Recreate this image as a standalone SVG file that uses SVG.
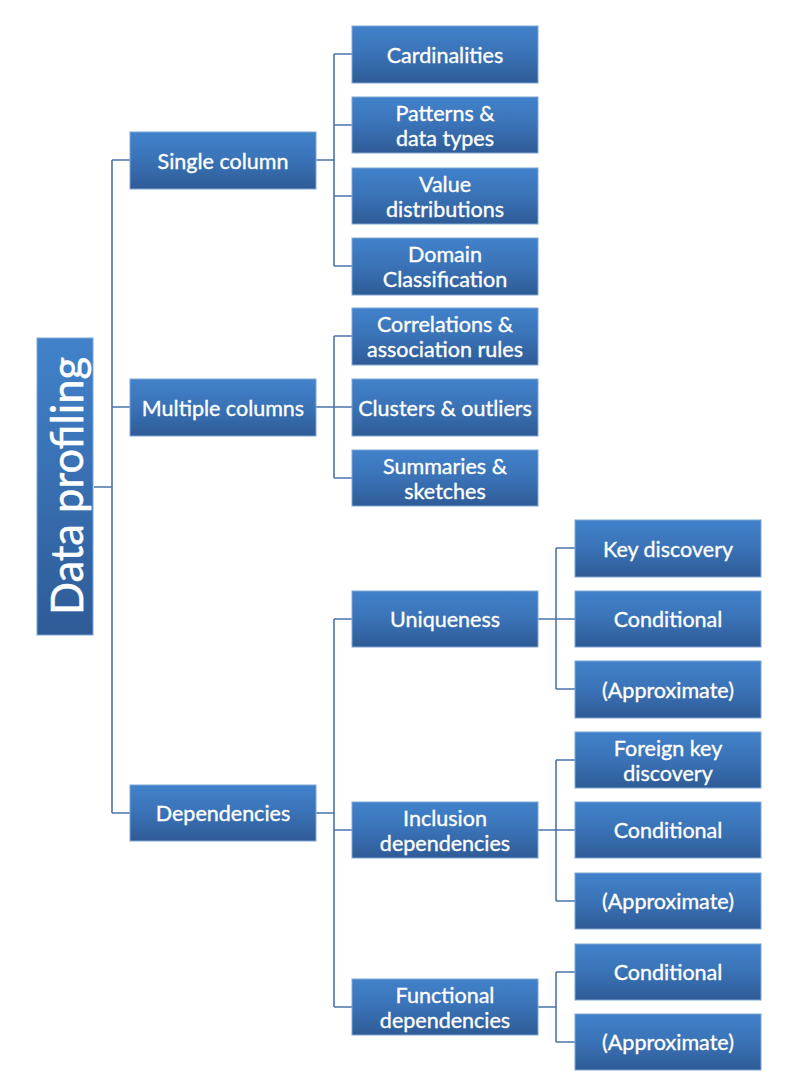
<svg xmlns="http://www.w3.org/2000/svg" width="812" height="1088" viewBox="0 0 812 1088">
<defs>
<linearGradient id="g" x1="0" y1="0" x2="0" y2="1">
<stop offset="0" stop-color="#4182cb"/>
<stop offset="0.5" stop-color="#3a72b6"/>
<stop offset="1" stop-color="#2e5b96"/>
</linearGradient>
<linearGradient id="gr" x1="0" y1="0" x2="0" y2="1">
<stop offset="0" stop-color="#4182cb"/>
<stop offset="1" stop-color="#2e5b96"/>
</linearGradient>
</defs>
<style>
rect{fill:url(#g);stroke:#7ea5d6;stroke-width:1}
#root rect{fill:url(#gr)}
text{fill:#fff;stroke:#fff;stroke-width:0.35;font-family:Lato,"Open Sans","Liberation Sans",sans-serif;font-size:21.5px;text-anchor:middle;dominant-baseline:central}
#connectors path{fill:none;stroke:#4a74ac;stroke-width:1.6}
</style>
<rect width="812" height="1088" fill="#fff" style="fill:#fff;stroke:none"/>
<g id="connectors">
<path d="M94 487H112M112 160V813M112 160H130M112 407H130M112 813H130"/>
<path d="M316 160H334M334 54V266M334 54H352M334 125H352M334 196H352M334 266H352"/>
<path d="M316 407H334M334 336V478M334 336H352M334 407H352M334 478H352"/>
<path d="M316 813H334M334 619V1007M334 619H352M334 830H352M334 1007H352"/>
<path d="M538 619H556M556 548V689M556 548H575M556 619H575M556 689H575"/>
<path d="M538 830H556M556 760V901M556 760H575M556 830H575M556 901H575"/>
<path d="M538 1007H556M556 972V1042M556 972H575M556 1042H575"/>
</g>
<g id="root"><rect x="37" y="338" width="56" height="297"/><text transform="translate(66 486) rotate(-90)" style="font-size:43.5px;stroke-width:0.5">Data profiling</text></g>
<g id="single"><rect x="130" y="132" width="186" height="57"/><text x="223" y="160.5">Single column</text></g>
<g id="multiple"><rect x="130" y="379" width="186" height="57"/><text x="223" y="407.5">Multiple columns</text></g>
<g id="deps"><rect x="130" y="785" width="186" height="56"/><text x="223" y="813">Dependencies</text></g>
<g id="card"><rect x="352" y="26" width="186" height="57"/><text x="445" y="54.5">Cardinalities</text></g>
<g id="patterns"><rect x="352" y="97" width="186" height="56"/><text x="445" y="112.5">Patterns &amp;</text><text x="445" y="137.5">data types</text></g>
<g id="value"><rect x="352" y="168" width="186" height="56"/><text x="445" y="183.5">Value</text><text x="445" y="208.5">distributions</text></g>
<g id="domain"><rect x="352" y="238" width="186" height="57"/><text x="445" y="254">Domain</text><text x="445" y="279">Classification</text></g>
<g id="corr"><rect x="352" y="308" width="186" height="57"/><text x="445" y="324">Correlations &amp;</text><text x="445" y="349">association rules</text></g>
<g id="clusters"><rect x="352" y="379" width="186" height="57"/><text x="445" y="407.5">Clusters &amp; outliers</text></g>
<g id="summaries"><rect x="352" y="450" width="186" height="56"/><text x="445" y="465.5">Summaries &amp;</text><text x="445" y="490.5">sketches</text></g>
<g id="uniq"><rect x="352" y="591" width="186" height="56"/><text x="445" y="619">Uniqueness</text></g>
<g id="incl"><rect x="352" y="802" width="186" height="56"/><text x="445" y="817.5">Inclusion</text><text x="445" y="842.5">dependencies</text></g>
<g id="func"><rect x="352" y="979" width="186" height="56"/><text x="445" y="994.5">Functional</text><text x="445" y="1019.5">dependencies</text></g>
<g id="key"><rect x="575" y="520" width="186" height="57"/><text x="668" y="548.5">Key discovery</text></g>
<g id="ucond"><rect x="575" y="591" width="186" height="56"/><text x="668" y="619">Conditional</text></g>
<g id="uapprox"><rect x="575" y="661" width="186" height="57"/><text x="668" y="689.5">(Approximate)</text></g>
<g id="fk"><rect x="575" y="732" width="186" height="56"/><text x="668" y="747.5">Foreign key</text><text x="668" y="772.5">discovery</text></g>
<g id="icond"><rect x="575" y="802" width="186" height="56"/><text x="668" y="830">Conditional</text></g>
<g id="iapprox"><rect x="575" y="873" width="186" height="56"/><text x="668" y="901">(Approximate)</text></g>
<g id="fcond"><rect x="575" y="944" width="186" height="56"/><text x="668" y="972">Conditional</text></g>
<g id="fapprox"><rect x="575" y="1014" width="186" height="56"/><text x="668" y="1042">(Approximate)</text></g>
</svg>
